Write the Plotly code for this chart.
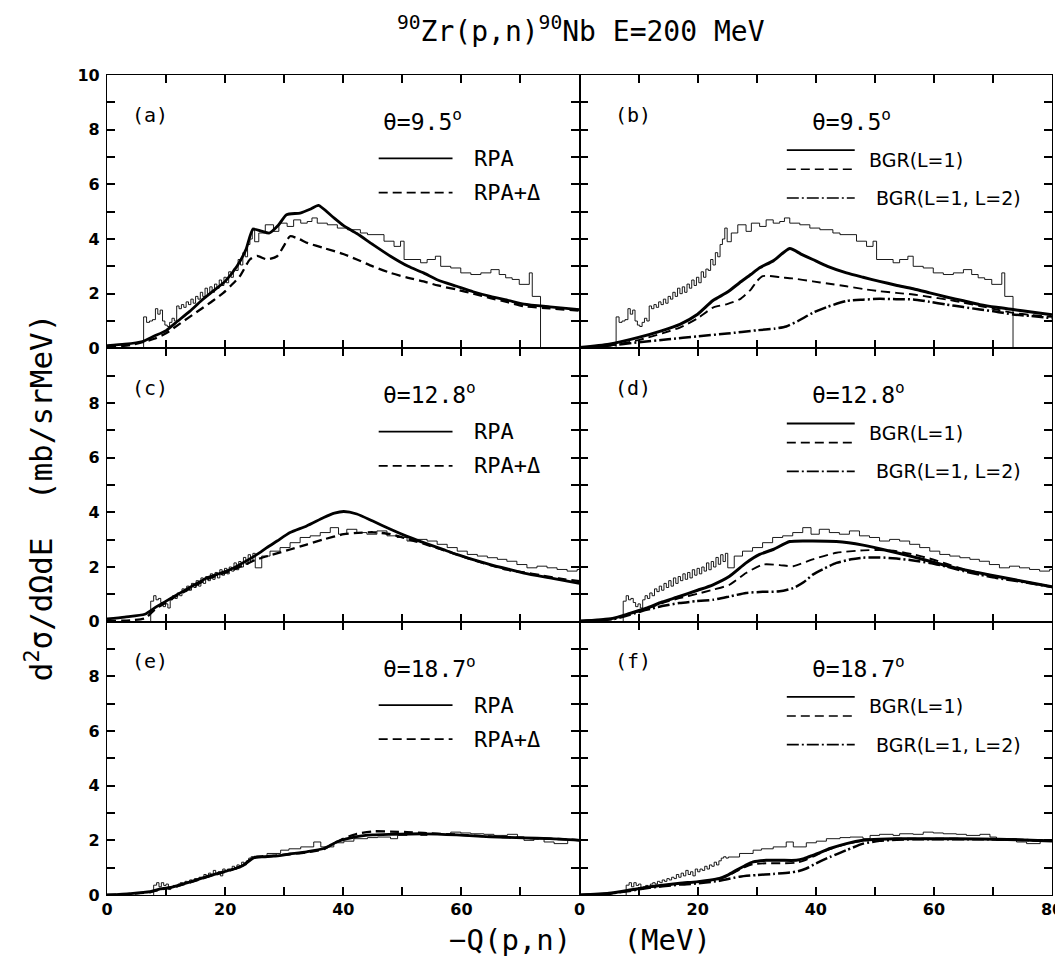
import plotly.graph_objects as go
from plotly.subplots import make_subplots

# ---------------- data ----------------
# experimental spectra (step histograms), theta = 9.5, 12.8, 18.7 deg
exp95_x = [6.2, 6.2, 6.7, 7.2, 7.7, 8.2, 8.6, 9.0, 9.4, 9.8, 10.2, 10.6, 11.0, 11.4, 11.8, 12.2, 12.6,
           13.0, 13.4, 13.8, 14.2, 14.6, 15.0, 15.4, 15.8, 16.2, 16.6, 17.0, 17.4, 17.8, 18.2, 18.6,
           19.0, 19.4, 19.8, 20.2, 20.6, 21.0, 21.4, 21.8, 22.2, 22.6, 23.0, 23.4, 23.8, 24.2, 24.6,
           25.0, 25.7, 26.8, 28.2, 29.1, 30.5, 31.6, 32.8, 33.9, 34.7, 35.6, 37.3, 39.0, 40.7, 42.9,
           44.1, 46.9, 48.6, 49.7, 50.3, 53.1, 54.2, 55.6, 56.5, 58.2, 59.9, 61.6, 63.3, 65.0, 66.4,
           67.5, 68.6, 69.8, 71.5, 72.0, 73.4]
exp95_y = [0.0, 1.15, 0.95, 1.0, 1.05, 1.45, 1.25, 1.4, 1.0, 0.85, 0.8, 0.95, 1.1, 1.0, 1.55, 1.45, 1.6,
           1.5, 1.7, 1.6, 1.8, 1.65, 1.9, 1.8, 2.05, 1.9, 2.2, 2.0, 2.25, 2.05, 2.35, 2.2,
           2.5, 2.3, 2.6, 2.4, 2.8, 2.6, 2.9, 2.85, 3.25, 3.05, 3.5, 3.35, 3.8, 4.0, 4.4,
           3.9, 4.22, 4.52, 4.28, 4.58, 4.46, 4.7, 4.58, 4.64, 4.77, 4.58, 4.52, 4.4, 4.34, 4.22,
           4.16, 3.92, 3.73, 3.92, 3.25, 3.13, 3.25, 3.37, 3.0, 2.94, 2.76, 2.7, 2.76, 2.88, 2.7,
           2.58, 2.52, 2.34, 2.76, 1.9, 0.0]

exp128_x = [7.4, 7.4, 7.9, 8.3, 8.7, 9.1, 9.5, 9.9, 10.3, 10.7, 11.1, 11.5, 11.9, 12.3, 12.7, 13.1, 13.5,
            13.9, 14.3, 14.7, 15.1, 15.5, 15.9, 16.3, 16.7, 17.1, 17.5, 17.9, 18.3, 18.7, 19.1, 19.5,
            19.9, 20.3, 20.7, 21.1, 21.5, 21.9, 22.3, 22.7, 23.1, 23.5, 23.9, 24.3, 24.7,
            25.1, 26.2, 27.6, 29.3, 31.0, 32.7, 34.4, 36.1, 37.8, 39.2, 40.6, 42.3, 44.0, 45.7, 47.4,
            49.1, 50.8, 52.5, 54.2, 55.9, 57.6, 59.3, 61.0, 62.7, 64.4, 66.1, 67.7, 69.4, 71.1, 72.8,
            74.5, 76.2, 77.9, 79.6, 80.0]
exp128_y = [0.0, 0.75, 0.95, 0.8, 0.85, 0.7, 0.55, 0.65, 0.5, 0.8, 0.95, 0.85, 1.05, 0.95, 1.2, 1.1, 1.3,
            1.15, 1.4, 1.25, 1.5, 1.3, 1.6, 1.4, 1.65, 1.5, 1.75, 1.55, 1.8, 1.6, 1.9, 1.7,
            1.95, 1.75, 2.0, 1.85, 2.15, 1.9, 2.2, 2.0, 2.35, 2.1, 2.45, 2.2, 2.5,
            1.97, 2.4, 2.58, 2.71, 2.89, 3.08, 3.14, 3.26, 3.44, 3.2, 3.38, 3.26, 3.2, 3.32, 3.14,
            3.08, 2.95, 3.01, 2.95, 2.83, 2.71, 2.58, 2.46, 2.4, 2.34, 2.28, 2.21, 2.09, 1.97, 2.03,
            1.97, 1.91, 1.85, 1.91, 1.91]

exp187_x = [7.9, 7.9, 8.4, 8.8, 9.2, 9.6, 10.0, 10.4, 10.8, 11.2, 11.6, 12.0, 12.4, 12.8, 13.2, 13.6,
            14.0, 14.4, 14.8, 15.2, 15.6, 16.0, 16.4, 16.8, 17.2, 17.6, 18.0, 18.4, 18.8, 19.2, 19.6,
            20.0, 20.4, 20.8, 21.2, 21.6, 22.0, 22.4, 22.8, 23.2, 23.6, 24.0, 24.4, 24.8,
            25.2, 27.1, 29.4, 30.8, 32.8, 35.0, 36.2, 38.4, 40.1, 41.8, 44.1, 45.8, 48.0, 49.2, 50.8,
            53.1, 54.2, 56.5, 58.2, 59.9, 61.6, 63.8, 65.5, 67.8, 69.5, 70.6, 72.3, 74.0, 75.7, 78.0, 80.0]
exp187_y = [0.0, 0.36, 0.45, 0.3, 0.45, 0.35, 0.4, 0.2, 0.3, 0.35, 0.3, 0.4, 0.45, 0.4, 0.5, 0.45,
            0.55, 0.5, 0.6, 0.55, 0.65, 0.6, 0.75, 0.65, 0.8, 0.7, 0.9, 0.75, 0.85, 0.7, 0.95,
            0.85, 0.95, 0.9, 1.05, 0.95, 1.1, 1.05, 1.2, 1.1, 1.25, 1.35, 1.4, 1.35,
            1.39, 1.52, 1.64, 1.69, 1.76, 1.94, 1.76, 1.91, 1.97, 2.06, 2.1, 2.12, 2.06, 2.18, 2.22,
            2.18, 2.24, 2.22, 2.3, 2.27, 2.24, 2.22, 2.18, 2.22, 2.12, 2.0, 2.06, 1.94, 1.88, 2.0, 2.0]

# RPA (solid) and RPA+Delta (dashed)
rpa95_x = [0, 3, 6, 8, 10, 12, 14, 16, 18, 20, 22, 23.5, 24.7, 26, 27.5, 29, 30.4, 32.7, 34.5, 35.8,
           38, 40, 42.3, 45, 48, 51, 53.6, 56, 59.2, 62, 64.9, 68, 70.6, 75, 80]
rpa95_y = [0.1, 0.15, 0.25, 0.45, 0.65, 1.0, 1.35, 1.75, 2.1, 2.45, 3.0, 3.6, 4.35, 4.3, 4.22, 4.5,
           4.89, 4.95, 5.1, 5.23, 4.85, 4.5, 4.2, 3.8, 3.37, 3.0, 2.76, 2.5, 2.27, 2.07, 1.9, 1.75,
           1.62, 1.52, 1.42]
rpad95_x = [0, 4, 8, 10, 12, 14, 16, 18, 19.7, 21, 22.5, 24.2, 25.4, 27.1, 28.8, 29.9, 31, 32.5, 34,
            36.7, 40, 42.3, 45, 48, 51, 53.6, 56, 59.2, 62, 64.9, 68, 70.6, 75, 80]
rpad95_y = [0.05, 0.12, 0.35, 0.55, 0.85, 1.15, 1.45, 1.75, 2.03, 2.3, 2.64, 3.25, 3.38, 3.25, 3.37,
            3.73, 4.1, 4.0, 3.85, 3.67, 3.45, 3.25, 3.0, 2.76, 2.58, 2.45, 2.3, 2.15, 2.0, 1.84, 1.68,
            1.54, 1.46, 1.38]

rpa128_x = [0, 3, 6.4, 8.4, 10, 11.8, 14, 16.9, 18.5, 20.8, 23, 25.4, 27, 28.8, 31, 33.8, 36.7, 38.5,
            40.1, 42.3, 45, 48, 50.8, 53.6, 56.5, 59.2, 62, 64.9, 67.8, 70.6, 75, 80]
rpa128_y = [0.1, 0.17, 0.27, 0.55, 0.75, 0.98, 1.25, 1.6, 1.72, 1.9, 2.15, 2.46, 2.7, 2.95, 3.26, 3.5,
            3.81, 3.97, 4.03, 3.94, 3.68, 3.38, 3.12, 2.89, 2.67, 2.46, 2.27, 2.09, 1.93, 1.78, 1.6, 1.4]
rpad128_x = [0, 4, 6.4, 8.4, 10, 11.8, 14, 16.9, 20.8, 23, 25.4, 28, 31, 33.8, 36.7, 40.1, 42.5, 45.1,
             48, 50.8, 53.6, 56.5, 59.2, 62.1, 64.9, 67.7, 70.6, 73.4, 76.5, 80]
rpad128_y = [0.02, 0.05, 0.12, 0.5, 0.7, 0.95, 1.2, 1.55, 1.85, 2.05, 2.28, 2.45, 2.64, 2.82, 3.01,
             3.2, 3.25, 3.27, 3.2, 3.03, 2.85, 2.65, 2.46, 2.25, 2.07, 1.9, 1.8, 1.7, 1.58, 1.48]

rpa187_x = [0, 4, 7.3, 9, 11.2, 14.1, 17, 19.7, 21.5, 23.1, 24.8, 26.5, 28.2, 31, 33.8, 36.7, 38.9,
            40.5, 42.3, 45, 48, 53.6, 59.2, 64.9, 70.6, 75, 80]
rpa187_y = [0.0, 0.05, 0.12, 0.22, 0.3, 0.48, 0.68, 0.85, 0.95, 1.09, 1.36, 1.4, 1.42, 1.5, 1.58, 1.7,
            1.94, 2.05, 2.14, 2.2, 2.22, 2.24, 2.2, 2.13, 2.09, 2.06, 2.0]
rpad187_x = [0, 4, 7.3, 9, 11.2, 14.1, 17, 19.7, 21.5, 23.1, 24.8, 26.5, 28.2, 31, 33.8, 36.7, 38.5,
             40, 42.3, 45.1, 48, 50.8, 53.6, 59.2, 64.9, 70.6, 75, 80]
rpad187_y = [0.0, 0.04, 0.1, 0.2, 0.28, 0.46, 0.66, 0.83, 0.95, 1.1, 1.38, 1.42, 1.44, 1.5, 1.56, 1.68,
             1.9, 2.06, 2.24, 2.33, 2.32, 2.3, 2.27, 2.21, 2.14, 2.09, 2.06, 2.01]

# BGR(L=1) solid / dashed and BGR(L=1, L=2) dash-dot
bgr_s95_x = [0, 5, 10, 14, 17, 20, 22.6, 25, 27.1, 29, 30.5, 32.8, 35.6, 37.5, 39.5, 42, 45.2, 48, 50.8,
             53.6, 56.5, 59.3, 62.1, 65, 67.8, 70.6, 73.4, 76.5, 80]
bgr_s95_y = [0.03, 0.15, 0.4, 0.65, 0.88, 1.25, 1.75, 2.05, 2.4, 2.7, 2.95, 3.2, 3.65, 3.45, 3.25, 3.0,
             2.76, 2.6, 2.45, 2.31, 2.18, 2.03, 1.88, 1.74, 1.6, 1.5, 1.42, 1.33, 1.23]
bgr_d95_x = [0, 5, 10, 14, 17, 20, 22.6, 25, 27.1, 29, 30, 31, 32, 34, 36, 39.5, 42, 45.2, 48, 50.8, 53.6,
             56.5, 59.3, 62.1, 65, 67.8, 70.6, 73.4, 76.5, 80]
bgr_d95_y = [0.02, 0.1, 0.3, 0.55, 0.76, 1.1, 1.49, 1.62, 1.79, 2.15, 2.45, 2.64, 2.65, 2.6, 2.56, 2.45,
             2.37, 2.27, 2.17, 2.09, 2.03, 1.97, 1.88, 1.79, 1.67, 1.55, 1.42, 1.3, 1.22, 1.15]
bgr_dd95_x = [0, 5, 10, 15, 20, 25, 30, 33, 35, 37, 39.5, 42, 45.2, 48, 50.8, 53.6, 56.5, 59.3, 62.1, 65,
              67.8, 70.6, 73.4, 76.5, 80]
bgr_dd95_y = [0.02, 0.1, 0.22, 0.33, 0.44, 0.54, 0.66, 0.72, 0.8, 1.0, 1.3, 1.52, 1.73, 1.78, 1.81, 1.8,
              1.79, 1.7, 1.6, 1.51, 1.42, 1.34, 1.24, 1.18, 1.1]

bgr_s128_x = [0, 5.6, 8.5, 11.3, 14, 16.9, 20, 22.6, 25.4, 28.2, 30.5, 32.8, 35.6, 39.5, 43.5, 48, 50.8,
              53.7, 56.5, 59.3, 62.1, 65, 67.8, 70.6, 75, 80]
bgr_s128_y = [0.02, 0.12, 0.3, 0.49, 0.72, 0.92, 1.15, 1.35, 1.66, 2.15, 2.46, 2.64, 2.93, 2.95, 2.93,
              2.8, 2.67, 2.52, 2.37, 2.21, 2.05, 1.9, 1.78, 1.66, 1.48, 1.28]
bgr_d128_x = [0, 5.6, 8.5, 11.3, 14, 16.9, 20, 22.6, 25.4, 28.2, 31.1, 33.9, 36.2, 39.5, 43.5, 48, 50.8,
              53.7, 56.5, 59.3, 62.1, 65, 67.8, 70.6, 75, 80]
bgr_d128_y = [0.02, 0.11, 0.28, 0.46, 0.68, 0.86, 1.02, 1.17, 1.35, 1.78, 2.09, 2.07, 2.03, 2.28, 2.52,
              2.61, 2.62, 2.58, 2.46, 2.31, 2.12, 1.92, 1.78, 1.66, 1.48, 1.28]
bgr_dd128_x = [0, 5.6, 8.5, 11.3, 14, 16.9, 19.8, 22.6, 25.4, 28.2, 31, 33.9, 36.2, 38, 39.5, 41.5, 43.5,
               46, 48, 50.8, 53.7, 56.5, 59.3, 62.1, 65, 67.8, 70.6, 75, 80]
bgr_dd128_y = [0.02, 0.09, 0.25, 0.43, 0.57, 0.68, 0.75, 0.8, 0.92, 1.05, 1.09, 1.11, 1.23, 1.45, 1.72,
               1.95, 2.15, 2.28, 2.34, 2.35, 2.31, 2.24, 2.15, 2.02, 1.85, 1.72, 1.6, 1.45, 1.27]

bgr_s187_x = [0, 5, 8.5, 11, 14.1, 17, 19.8, 22, 23.7, 25.2, 26.6, 28, 29.4, 31.6, 34, 36.7, 38, 39.5,
              41, 42.4, 45.2, 48, 50.8, 53.7, 59.3, 67.8, 74, 80]
bgr_s187_y = [0.0, 0.06, 0.18, 0.27, 0.36, 0.43, 0.48, 0.54, 0.61, 0.74, 0.91, 1.07, 1.21, 1.27, 1.27,
              1.27, 1.33, 1.45, 1.58, 1.7, 1.88, 2.0, 2.04, 2.06, 2.06, 2.05, 2.02, 1.98]
bgr_d187_x = bgr_s187_x
bgr_d187_y = [0.0, 0.05, 0.17, 0.26, 0.35, 0.42, 0.47, 0.53, 0.59, 0.71, 0.87, 1.02, 1.13, 1.16, 1.16,
              1.18, 1.26, 1.4, 1.55, 1.68, 1.87, 1.99, 2.04, 2.06, 2.06, 2.05, 2.02, 1.98]
bgr_dd187_x = [0, 5, 8.5, 11, 14.1, 17, 19.8, 23.7, 27.1, 30, 32.8, 35.6, 37, 38.4, 40, 42.4, 45.2, 48,
               50.8, 53.7, 56.5, 59.3, 67.8, 74, 80]
bgr_dd187_y = [0.0, 0.05, 0.15, 0.24, 0.32, 0.38, 0.42, 0.52, 0.67, 0.73, 0.77, 0.82, 0.87, 0.97, 1.15,
               1.39, 1.64, 1.88, 1.98, 2.02, 2.04, 2.04, 2.04, 2.02, 1.98]

panel_labels = ["(a)", "(b)", "(c)", "(d)", "(e)", "(f)"]
angles = ["9.5", "9.5", "12.8", "12.8", "18.7", "18.7"]
x_ticks = [0, 10, 20, 30, 40, 50, 60, 70, 80]
y_ticks = [0, 1, 2, 3, 4, 5, 6, 7, 8, 9, 10]

# ---------------- figure ----------------
# the page body has an 8px margin, so the figure is sized/offset to land on the window
W, H = 1055, 953
fig = make_subplots(rows=3, cols=2, horizontal_spacing=0, vertical_spacing=0)

MONO = "DejaVu Sans Mono"
BLACK = "black"
DASH = "9px,5px"
DASHDOT = "12px,3px,2px,3px"
TICKFONT = dict(family="DejaVu Sans", size=16, color=BLACK, weight="bold")

exp_sets = {1: (exp95_x, exp95_y), 2: (exp128_x, exp128_y), 3: (exp187_x, exp187_y)}
rpa_sets = {1: ((rpa95_x, rpa95_y), (rpad95_x, rpad95_y)),
            2: ((rpa128_x, rpa128_y), (rpad128_x, rpad128_y)),
            3: ((rpa187_x, rpa187_y), (rpad187_x, rpad187_y))}
bgr_sets = {1: ((bgr_s95_x, bgr_s95_y), (bgr_d95_x, bgr_d95_y), (bgr_dd95_x, bgr_dd95_y)),
            2: ((bgr_s128_x, bgr_s128_y), (bgr_d128_x, bgr_d128_y), (bgr_dd128_x, bgr_dd128_y)),
            3: ((bgr_s187_x, bgr_s187_y), (bgr_d187_x, bgr_d187_y), (bgr_dd187_x, bgr_dd187_y))}


def add_line(x, y, row, col, width, dash="solid", shape="spline"):
    line = dict(color=BLACK, width=width, dash=dash, shape=shape)
    if shape == "spline":
        line["smoothing"] = 0.6
    fig.add_trace(go.Scatter(x=x, y=y, mode="lines", showlegend=False, hoverinfo="skip", line=line),
                  row=row, col=col)


for row in (1, 2, 3):
    ex, ey = exp_sets[row]
    # left: RPA
    add_line(ex, ey, row, 1, 0.9, shape="hv")
    (sx, sy), (dx, dy) = rpa_sets[row]
    add_line(dx, dy, row, 1, 2.3, dash=DASH)
    add_line(sx, sy, row, 1, 2.8)
    # right: BGR
    add_line(ex, ey, row, 2, 0.9, shape="hv")
    (sx, sy), (dx, dy), (ddx, ddy) = bgr_sets[row]
    add_line(ddx, ddy, row, 2, 2.5, dash=DASHDOT)
    add_line(dx, dy, row, 2, 1.9, dash=DASH)
    add_line(sx, sy, row, 2, 3.0)

annotations = []
shapes = []
for i in range(6):
    row, col = i // 2 + 1, i % 2 + 1
    idx = "" if i == 0 else str(i + 1)
    xr, yr = "x" + idx, "y" + idx
    # x axis
    if row == 3:
        xt = [str(v) if v % 20 == 0 else "" for v in x_ticks]
        if col == 1:
            xt[-1] = ""
    else:
        xt = ["" for _ in x_ticks]
    fig.update_xaxes(row=row, col=col, range=[0, 80], tickmode="array", tickvals=x_ticks, ticktext=xt,
                     ticks="inside", ticklen=8, tickwidth=1.5, tickcolor=BLACK,
                     showline=True, linewidth=1.3, linecolor=BLACK, mirror="ticks",
                     showgrid=False, zeroline=False, tickfont=TICKFONT,
                     automargin=False, ticklabeloverflow="allow")
    # y axis
    if col == 1:
        yt = [str(v) if v % 2 == 0 else "" for v in y_ticks]
        if row > 1:
            yt[-1] = ""
    else:
        yt = ["" for _ in y_ticks]
    fig.update_yaxes(row=row, col=col, range=[0, 10], tickmode="array", tickvals=y_ticks, ticktext=yt,
                     ticks="inside", ticklen=8, tickwidth=1.5, tickcolor=BLACK,
                     showline=True, linewidth=1.3, linecolor=BLACK, mirror="ticks",
                     showgrid=False, zeroline=False, ticklabelstandoff=3, tickfont=TICKFONT,
                     automargin=False, ticklabeloverflow="allow")

    # panel label
    annotations.append(dict(xref=xr, yref=yr, x=9.1 if col == 2 else 7.3, y=8.55, text=panel_labels[i],
                            showarrow=False, font=dict(family=MONO, size=20, color=BLACK)))
    # angle
    annotations.append(dict(xref=xr, yref=yr, x=39.0 if col == 2 else 46.4, y=8.35, xanchor="left",
                            text="θ=" + angles[i] + "<sup>o</sup>", showarrow=False,
                            font=dict(family=MONO, size=23, color=BLACK)))
    if col == 1:
        shapes.append(dict(type="line", xref=xr, yref=yr, x0=46.0, x1=58.5, y0=6.95, y1=6.95,
                           line=dict(color=BLACK, width=1.8)))
        shapes.append(dict(type="line", xref=xr, yref=yr, x0=46.0, x1=58.5, y0=5.7, y1=5.7,
                           line=dict(color=BLACK, width=1.8, dash=DASH)))
        annotations.append(dict(xref=xr, yref=yr, x=61.8, y=6.95, xanchor="left", text="RPA",
                                showarrow=False, font=dict(family=MONO, size=22, color=BLACK)))
        annotations.append(dict(xref=xr, yref=yr, x=61.8, y=5.7, xanchor="left", text="RPA+Δ",
                                showarrow=False, font=dict(family=MONO, size=22, color=BLACK)))
    else:
        shapes.append(dict(type="line", xref=xr, yref=yr, x0=35.1, x1=46.6, y0=7.25, y1=7.25,
                           line=dict(color=BLACK, width=1.8)))
        shapes.append(dict(type="line", xref=xr, yref=yr, x0=35.1, x1=46.6, y0=6.55, y1=6.55,
                           line=dict(color=BLACK, width=1.6, dash=DASH)))
        shapes.append(dict(type="line", xref=xr, yref=yr, x0=35.1, x1=46.6, y0=5.5, y1=5.5,
                           line=dict(color=BLACK, width=1.6, dash=DASHDOT)))
        annotations.append(dict(xref=xr, yref=yr, x=48.6, y=6.9, xanchor="left", text="BGR(L=1)",
                                showarrow=False, font=dict(family="DejaVu Sans", size=19, color=BLACK)))
        annotations.append(dict(xref=xr, yref=yr, x=49.8, y=5.5, xanchor="left", text="BGR(L=1, L=2)",
                                showarrow=False, font=dict(family="DejaVu Sans", size=19, color=BLACK)))

# global titles
annotations.append(dict(xref="paper", yref="paper", x=0.502, y=1.056, xanchor="center", yanchor="middle",
                        text="<sup>90</sup>Zr(p,n)<sup>90</sup>Nb E=200 MeV", showarrow=False,
                        font=dict(family=MONO, size=28, color=BLACK)))
annotations.append(dict(xref="paper", yref="paper", x=0.5, y=-0.055, xanchor="center", yanchor="middle",
                        text="−Q(p,n)   (MeV)", showarrow=False,
                        font=dict(family=MONO, size=29, color=BLACK)))
annotations.append(dict(xref="paper", yref="paper", x=-0.072, y=0.485, xanchor="center", yanchor="middle",
                        text="d<sup>2</sup>σ/dΩdE  (mb/srMeV)", textangle=-90, showarrow=False,
                        font=dict(family=MONO, size=31, color=BLACK)))

fig.update_layout(width=W, height=H, margin=dict(l=99, r=11, t=67, b=66),
                  paper_bgcolor="white", plot_bgcolor="white", showlegend=False,
                  annotations=annotations, shapes=shapes)

fig.write_html("out.html")
